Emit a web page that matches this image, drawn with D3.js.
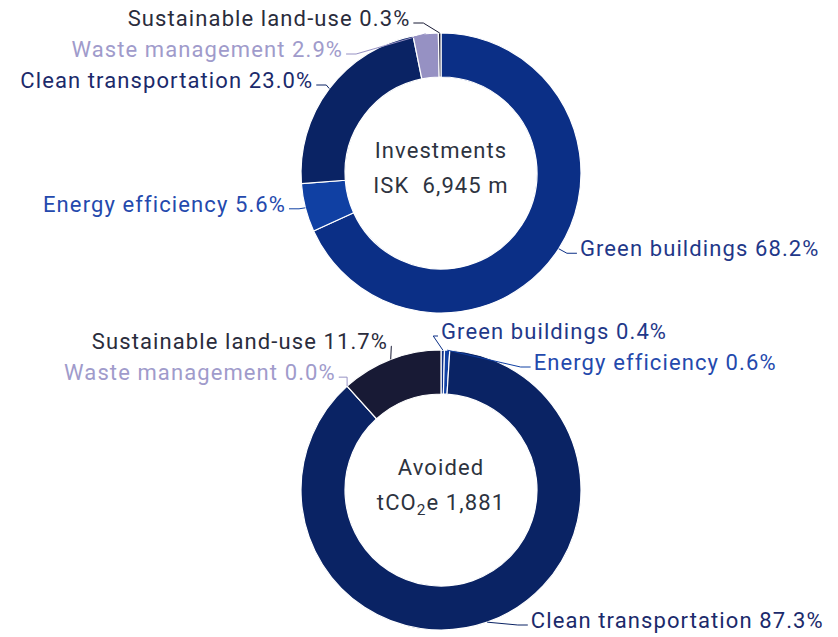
<!DOCTYPE html>
<html lang="en">
<head>
  <meta charset="UTF-8">
  <title>Green bond donuts</title>
  <script src="https://d3js.org/d3.v7.min.js"></script>
  <style>
    body { margin: 0; background: #fff; }
    text { font-family: Roboto, "Noto Sans", sans-serif; letter-spacing: 1.1px; }
  </style>
</head>
<body>
<svg></svg>
<script>
  const categories = ['Green buildings', 'Energy efficiency', 'Clean transportation', 'Waste management', 'Sustainable land-use']
  const investments = [68.2, 5.6, 23.0, 2.9, 0.3]
  const avoided = [0.4, 0.6, 87.3, 0.0, 11.7]
  const sliceColors = ['#0b2f86', '#1040a3', '#0a2364', '#9691c3', '#181a35']
  const labelColors = ['#1f3889', '#2449ad', '#1b2a6b', '#a09bcb', '#2a2c3c']

  const width = 838, height = 637
  const outer = 140, inner = 96
  const fontSize = 22

  const svg = d3.select('svg')
      .attr('width', width)
      .attr('height', height)
      .attr('viewBox', [0, 0, width, height])

  const pie = d3.pie().sort(null).value(d => d)
  const arc = d3.arc().innerRadius(inner).outerRadius(outer)

  function donut(values, cx, cy, centerLines) {
    const g = svg.append('g').attr('transform', `translate(${cx},${cy})`)
    const arcs = pie(values)

    g.selectAll('path.slice')
      .data(arcs)
      .join('path')
        .attr('class', 'slice')
        .attr('d', arc)
        .attr('fill', (d, i) => sliceColors[i])
        .attr('stroke', '#fff')
        .attr('stroke-width', 1.2)

    // labels: ideal spot on a ring, then pushed apart per side
    const ring = outer + 12, xRing = outer + 18, gap = 31
    const labels = arcs.map((d, i) => {
      const a = (d.startAngle + d.endAngle) / 2
      return {
        i, a,
        left: a > Math.PI,
        px: Math.sin(a) * outer, py: -Math.cos(a) * outer,
        y: -Math.cos(a) * ring - 7
      }
    })
    const minY = 18 - cy, maxY = height - 17 - cy
    for (const side of [true, false]) {
      const list = labels.filter(l => l.left === side).sort((a, b) => a.y - b.y)
      let prev = -Infinity
      list.forEach(l => {
        l.y = Math.max(l.y, minY, prev + gap)
        prev = l.y
      })
      let next = Infinity
      list.slice().reverse().forEach(l => {
        l.y = Math.min(l.y, maxY, next - gap)
        next = l.y
      })
    }
    labels.forEach(l => {
      const dx = Math.sqrt(Math.max(xRing * xRing - l.y * l.y, 0))
      l.x = l.left ? -dx : dx
    })

    g.selectAll('path.connector')
      .data(labels)
      .join('path')
        .attr('class', 'connector')
        .attr('fill', 'none')
        .attr('stroke', l => sliceColors[l.i])
        .attr('stroke-width', 1)
        .attr('d', l => {
          const s = l.left ? 1 : -1
          const lx = l.x + s * 3
          const crook = lx + s * Math.min(10, Math.abs(l.px - lx))
          return d3.line()([[lx, l.y + 5], [crook, l.y + 5], [l.px, l.py]])
        })

    g.selectAll('text.label')
      .data(labels)
      .join('text')
        .attr('class', 'label')
        .attr('x', l => l.x)
        .attr('y', l => l.y)
        .attr('dy', '0.35em')
        .attr('text-anchor', l => l.left ? 'end' : 'start')
        .attr('fill', l => labelColors[l.i])
        .attr('font-size', fontSize)
        .text(l => `${categories[l.i]} ${values[l.i].toFixed(1)}%`)

    const c = g.append('text')
        .attr('text-anchor', 'middle')
        .attr('fill', '#2d3340')
        .attr('font-size', fontSize)
        .style('white-space', 'pre')
    centerLines.forEach((line, k) => {
      const t = c.append('tspan').attr('x', 0).attr('y', -23 + k * 35).attr('dy', '0.35em')
      line.forEach(part => {
        t.append('tspan')
          .attr('font-size', part.sub ? fontSize * 0.7 : null)
          .attr('dy', part.sub ? 5 : (part.after ? -5 : null))
          .text(part.text)
      })
    })
  }

  donut(investments, 441, 173, [
    [{text: 'Investments'}],
    [{text: 'ISK  6,945 m'}]
  ])
  donut(avoided, 441, 490, [
    [{text: 'Avoided'}],
    [{text: 'tCO'}, {text: '2', sub: true}, {text: 'e 1,881', after: true}]
  ])
</script>
</body>
</html>
